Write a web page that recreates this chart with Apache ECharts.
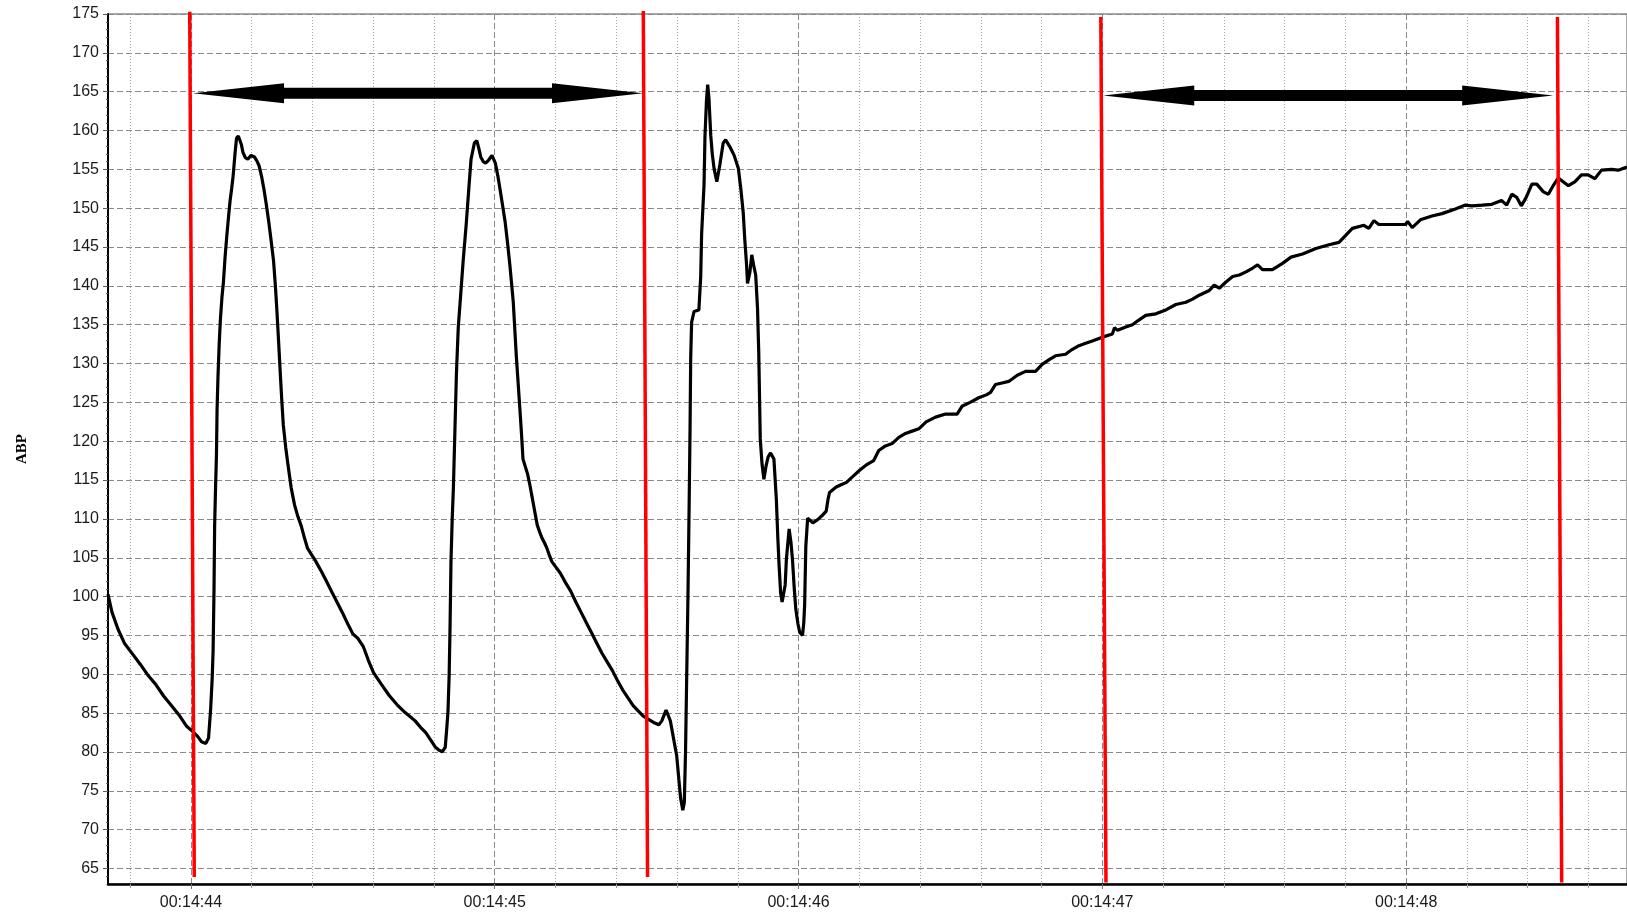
<!DOCTYPE html>
<html>
<head>
<meta charset="utf-8">
<title>ABP</title>
<script src="https://cdn.jsdelivr.net/npm/echarts@6/dist/echarts.min.js"></script>
<style>
html, body { margin: 0; padding: 0; background: #fff; }
#chart { width: 1627px; height: 913px; }
</style>
</head>
<body>
<div id="chart"></div>
<script>
// time = seconds after 00:14:00
var abpTime = [
  43.727, 43.74, 43.76, 43.781, 43.81, 43.833, 43.86, 43.884, 43.91, 43.935, 43.96, 43.986,
  44.001, 44.022, 44.035, 44.049, 44.058, 44.065, 44.07, 44.073, 44.076, 44.078, 44.081, 44.084,
  44.086, 44.089, 44.093, 44.097, 44.102, 44.107, 44.112, 44.118, 44.124, 44.129, 44.134, 44.139,
  44.145, 44.15, 44.156, 44.161, 44.166, 44.171, 44.179, 44.187, 44.198, 44.209, 44.217, 44.224,
  44.232, 44.24, 44.248, 44.256, 44.264, 44.272, 44.278, 44.283, 44.289, 44.294, 44.299, 44.304,
  44.312, 44.32, 44.33, 44.341, 44.352, 44.363, 44.374, 44.384, 44.397, 44.41, 44.43, 44.447,
  44.465, 44.482, 44.499, 44.516, 44.533, 44.55, 44.567, 44.584, 44.601, 44.627, 44.652, 44.678,
  44.704, 44.72, 44.738, 44.755, 44.773, 44.79, 44.805, 44.818, 44.827, 44.837, 44.841, 44.846,
  44.85, 44.853, 44.856, 44.86, 44.864, 44.869, 44.874, 44.88, 44.888, 44.896, 44.906, 44.915,
  44.922, 44.933, 44.941, 44.947, 44.954, 44.962, 44.97, 44.98, 44.991, 45.002, 45.01, 45.018,
  45.026, 45.034, 45.042, 45.05, 45.061, 45.071, 45.077, 45.082, 45.088, 45.093, 45.1, 45.108,
  45.116, 45.124, 45.132, 45.14, 45.148, 45.156, 45.164, 45.172, 45.18, 45.188, 45.205, 45.216,
  45.233, 45.25, 45.267, 45.284, 45.302, 45.319, 45.336, 45.353, 45.37, 45.387, 45.404, 45.421,
  45.438, 45.455, 45.472, 45.489, 45.506, 45.523, 45.54, 45.55, 45.558, 45.564, 45.57, 45.578,
  45.585, 45.592, 45.599, 45.606, 45.612, 45.619, 45.624, 45.628, 45.632, 45.636, 45.64, 45.643,
  45.645, 45.648, 45.656, 45.672, 45.678, 45.681, 45.689, 45.692, 45.697, 45.701, 45.705, 45.711,
  45.716, 45.722, 45.731, 45.741, 45.752, 45.76, 45.774, 45.788, 45.802, 45.81, 45.818, 45.823,
  45.829, 45.832, 45.84, 45.846, 45.852, 45.859, 45.865, 45.869, 45.874, 45.88, 45.886, 45.893,
  45.9, 45.908, 45.919, 45.927, 45.932, 45.936, 45.941, 45.946, 45.952, 45.956, 45.96, 45.969,
  45.975, 45.98, 45.986, 45.991, 45.998, 46.004, 46.013, 46.017, 46.02, 46.024, 46.03, 46.047,
  46.063, 46.077, 46.091, 46.097, 46.102, 46.124, 46.14, 46.158, 46.18, 46.202, 46.225, 46.247,
  46.264, 46.286, 46.308, 46.33, 46.352, 46.374, 46.396, 46.42, 46.451, 46.484, 46.522, 46.538,
  46.565, 46.593, 46.62, 46.632, 46.648, 46.67, 46.692, 46.72, 46.747, 46.78, 46.802, 46.825,
  46.846, 46.879, 46.9, 46.923, 46.945, 46.967, 47.0, 47.033, 47.04, 47.044, 47.05, 47.055,
  47.077, 47.099, 47.12, 47.143, 47.176, 47.209, 47.242, 47.275, 47.297, 47.319, 47.352, 47.368,
  47.385, 47.407, 47.429, 47.451, 47.473, 47.495, 47.511, 47.527, 47.56, 47.593, 47.621, 47.659,
  47.703, 47.746, 47.779, 47.801, 47.823, 47.861, 47.877, 47.894, 47.91, 47.95, 47.998, 48.005,
  48.02, 48.047, 48.085, 48.118, 48.162, 48.195, 48.216, 48.25, 48.282, 48.314, 48.331, 48.348,
  48.364, 48.379, 48.394, 48.414, 48.43, 48.452, 48.468, 48.484, 48.501, 48.534, 48.555, 48.577,
  48.599, 48.621, 48.643, 48.676, 48.698, 48.727
];
var abpValue = [
  100.3, 98, 95.8, 94, 92.5, 91.3, 89.8, 88.7, 87.2, 86, 84.8, 83.3,
  82.8, 82, 81.3, 81.1, 81.8, 85.6, 89.5, 93.1, 101, 109.1, 114, 118.2,
  124, 128.3, 132.5, 135.7, 138.5, 140.5, 143.5, 146.4, 149, 151, 152.5, 154.2,
  157, 159, 159.3, 159.1, 158.2, 157.2, 156.5, 156.3, 156.8, 156.6, 156.1, 155.5,
  154.2, 152.5, 150.5, 148.3, 145.8, 143.2, 140, 136.8, 132.5, 128.8, 125.3, 122.1,
  119.2, 116.8, 114, 111.8, 110.3, 109.1, 107.5, 106.2, 105.4, 104.6, 103.2, 101.9,
  100.5, 99.2, 97.9, 96.5, 95.2, 94.6, 93.6, 91.8, 90.2, 88.7, 87.3, 86.1,
  85.1, 84.6, 84, 83.2, 82.5, 81.5, 80.6, 80.2, 80, 80.6, 82.5, 85.1,
  89.9, 96.3, 104.6, 110, 114.1, 121.5, 128.8, 134.7, 138.9, 143.2, 147.9, 152.7,
  156.3, 158.4, 158.7, 157.8, 156.6, 156, 155.8, 156.2, 156.8, 155.8, 154.2, 152.3,
  150.3, 148.3, 145.6, 142.6, 137.9, 131, 127.5, 124.6, 121, 117.7, 116.8, 115.8,
  114.3, 112.6, 110.9, 109.2, 108.3, 107.5, 106.9, 106.2, 105.3, 104.5, 103.6, 103,
  101.8, 100.7, 99.3, 98, 96.6, 95.3, 94, 92.7, 91.6, 90.5, 89.2, 88,
  87, 86, 85.3, 84.6, 84.2, 83.8, 83.5, 84, 84.8, 85.4, 84.8, 84,
  82.5, 81, 79.5, 76.5, 74, 72.5, 73.5, 80, 90, 100, 112, 122,
  130.6, 135.3, 136.7, 136.9, 141.2, 146.7, 153.1, 159.2, 163.9, 165.9, 164.2, 159.4,
  157, 155.1, 153.4, 155.6, 158.4, 158.8, 157.9, 156.8, 155.1, 152.5, 149.4, 146,
  142.7, 140.3, 141.8, 144, 142.7, 141.4, 137.1, 131.5, 120.3, 117, 115.1, 116.8,
  118, 118.5, 117.7, 112.5, 107.4, 104, 100.5, 99.3, 99.2, 101.5, 104.8, 108.7,
  107, 104.8, 101, 98.4, 96.5, 95.4, 95, 96.5, 98.8, 106.5, 110.1, 109.5,
  109.9, 110.4, 111, 112.5, 113.4, 114.1, 114.4, 114.7, 115.5, 116.3, 117, 117.5,
  118.8, 119.4, 119.7, 120.5, 121, 121.3, 121.6, 122.5, 123.1, 123.5, 123.5, 124.5,
  125, 125.6, 126, 126.3, 127.3, 127.5, 127.7, 128.5, 129, 129, 129.9, 130.5,
  131, 131.2, 131.8, 132.3, 132.6, 132.9, 133.4, 133.8, 134.6, 134.8, 134.3, 134.4,
  134.7, 135, 135.6, 136.2, 136.4, 136.9, 137.6, 137.9, 138.3, 138.8, 139.4, 140.1,
  139.7, 140.5, 141.2, 141.4, 141.8, 142.3, 142.7, 142.1, 142.1, 142.9, 143.7, 144.1,
  144.8, 145.3, 145.6, 146.5, 147.4, 147.8, 147.4, 148.4, 147.9, 147.9, 147.9, 148.3,
  147.5, 148.5, 149, 149.3, 149.9, 150.4, 150.3, 150.4, 150.5, 151, 150.4, 151.8,
  151.4, 150.3, 151.3, 153.1, 153.1, 152.1, 151.8, 152.9, 153.9, 152.9, 153.4, 154.3,
  154.3, 153.8, 154.9, 155, 154.9, 155.3
];

// axis ticks
var secondTicks = [44, 45, 46, 47, 48];
var fifthTicks = [43.8, 44.2, 44.4, 44.6, 44.8, 45.2, 45.4, 45.6, 45.8, 46.2, 46.4, 46.6, 46.8,
  47.2, 47.4, 47.6, 47.8, 48.2, 48.4, 48.6];
var yLabelTicks = [65, 70, 75, 80, 85, 90, 95, 100, 105, 110, 115, 120, 125, 130, 135, 140,
  145, 150, 155, 160, 165, 170, 175];
var yUnitTicks = [];
for (var u = 64; u <= 174; u++) yUnitTicks.push(u);

// red markers (slightly slanted): top and bottom ends
var markerTopT = [43.996, 45.489, 46.995, 48.498];
var markerTopV = [175.3, 175.4, 174.6, 174.6];
var markerBotT = [44.011, 45.503, 47.012, 48.512];
var markerBotV = [63.9, 63.9, 63.2, 63.2];

// double arrows between markers
var arrowFrom = [44.007, 47.003];
var arrowTo = [45.488, 48.484];
var arrowLevel = [164.8, 164.5];

var myChart = echarts.init(document.getElementById("chart"));

var tickFont = { color: "#1a1a1a", fontSize: 16, fontFamily: "Liberation Sans, Arial, sans-serif" };

var markerSeries = markerTopT.map(function (t, i) {
  return {
    type: "line",
    data: [[t, markerTopV[i]], [markerBotT[i], markerBotV[i]]],
    symbol: "none",
    clip: false,
    lineStyle: { color: "#ff0000", width: 3.5 },
    z: 4,
    silent: true
  };
});

var arrowData = arrowFrom.map(function (f, i) {
  return [f, arrowTo[i], arrowLevel[i]];
});

function renderArrow(params, api) {
  var a = api.coord([api.value(0), api.value(2)]);
  var b = api.coord([api.value(1), api.value(2)]);
  var y = a[1];
  var head = 91, half = 10, shaft = 5.5;
  return {
    type: "polygon",
    shape: {
      points: [
        [a[0], y], [a[0] + head, y - half], [a[0] + head, y - shaft],
        [b[0] - head, y - shaft], [b[0] - head, y - half], [b[0], y],
        [b[0] - head, y + half], [b[0] - head, y + shaft],
        [a[0] + head, y + shaft], [a[0] + head, y + half]
      ]
    },
    style: { fill: "#000" }
  };
}

var option = {
  animation: false,
  backgroundColor: "#fff",
  grid: {
    left: 108,
    right: 0,
    top: 14,
    bottom: 29,
    show: true,
    borderColor: "#555",
    borderWidth: 1
  },
  xAxis: [
    {
      type: "value",
      position: "bottom",
      min: 43.727,
      max: 48.727,
      axisLine: { show: true, onZero: false, lineStyle: { color: "#000", width: 2.5 } },
      axisTick: { show: true, customValues: secondTicks, length: 5, lineStyle: { color: "#777" } },
      axisLabel: {
        customValues: secondTicks,
        margin: 11,
        color: tickFont.color,
        fontSize: tickFont.fontSize,
        fontFamily: tickFont.fontFamily,
        formatter: function (v) {
          return "00:14:" + Math.round(v);
        }
      },
      splitLine: { show: true, lineStyle: { color: "#8a8a8a", width: 1, type: [6, 3] } }
    },
    {
      type: "value",
      position: "bottom",
      min: 43.727,
      max: 48.727,
      axisLine: { show: false },
      axisTick: { show: true, customValues: fifthTicks, length: 4, lineStyle: { color: "#999" } },
      axisLabel: { show: false, customValues: fifthTicks },
      splitLine: { show: true, lineStyle: { color: "#a8a8a8", width: 1, type: [1, 2] } }
    }
  ],
  yAxis: [
    {
      type: "value",
      position: "left",
      min: 63,
      max: 175,
      name: "ABP",
      nameLocation: "middle",
      nameRotate: 90,
      nameGap: 78,
      nameTextStyle: {
        color: "#000",
        fontSize: 15,
        fontWeight: "bold",
        fontFamily: "Liberation Serif, Times New Roman, serif",
        padding: [0, 0, 0, 0]
      },
      axisLine: { show: true, onZero: false, lineStyle: { color: "#000", width: 2 } },
      axisTick: { show: true, customValues: yLabelTicks, length: 5, lineStyle: { color: "#555" } },
      axisLabel: {
        customValues: yLabelTicks,
        margin: 9,
        color: tickFont.color,
        fontSize: tickFont.fontSize,
        fontFamily: tickFont.fontFamily
      },
      splitLine: { show: true, lineStyle: { color: "#8a8a8a", width: 1, type: [6, 3] } }
    },
    {
      type: "value",
      position: "left",
      min: 63,
      max: 175,
      axisLine: { show: false },
      axisTick: { show: true, customValues: yUnitTicks, length: 2, lineStyle: { color: "#666" } },
      axisLabel: { show: false, customValues: yUnitTicks },
      splitLine: { show: false }
    }
  ],
  series: [
    {
      name: "ABP",
      type: "line",
      data: abpTime.map(function (t, i) {
        return [t, abpValue[i]];
      }),
      symbol: "none",
      lineStyle: { color: "#000", width: 3.2 },
      z: 3,
      silent: true
    }
  ].concat(markerSeries).concat([
    {
      type: "custom",
      renderItem: renderArrow,
      data: arrowData,
      encode: { x: [0, 1], y: 2 },
      clip: false,
      z: 5,
      silent: true
    }
  ])
};

myChart.setOption(option);

window.addEventListener("resize", function () {
  if (myChart) myChart.resize();
});
</script>
</body>
</html>
